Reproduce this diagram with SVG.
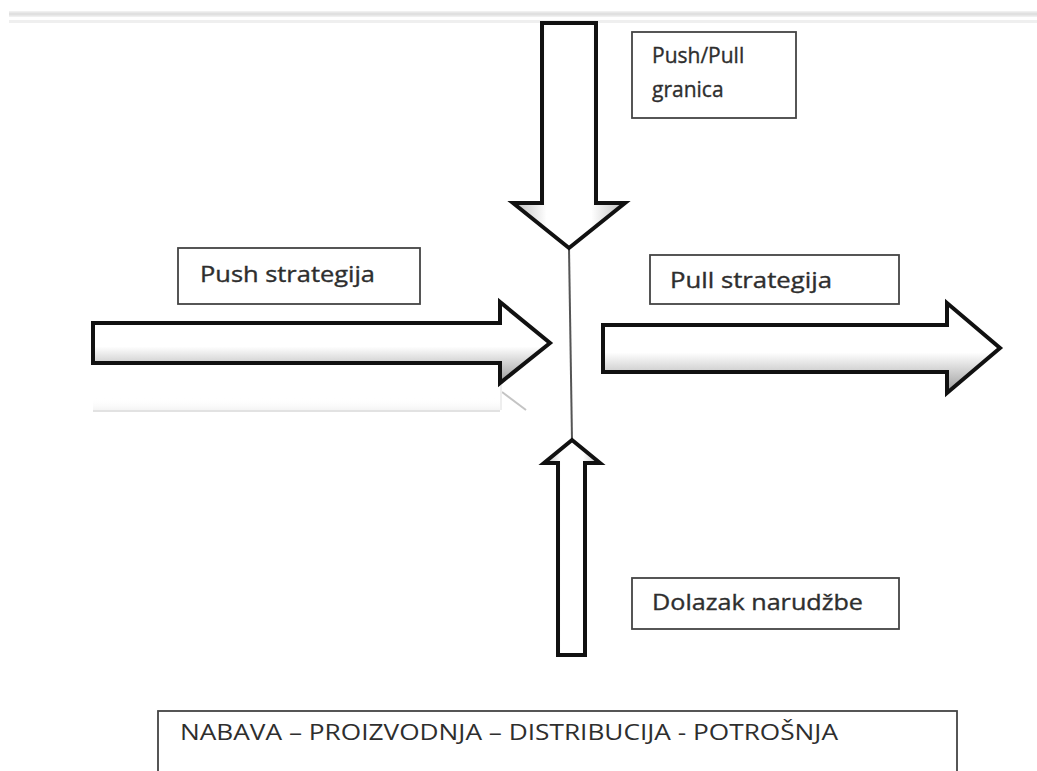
<svg xmlns="http://www.w3.org/2000/svg" width="1037" height="771" viewBox="0 0 1037 771">
<defs>
<style>
.box{fill:#fff;stroke:#444;stroke-width:1.8}
.lbl{font-family:"Open Sans","Liberation Sans",sans-serif;font-size:21px;fill:#2e2e2e;stroke:#2e2e2e;stroke-width:0.35}
.arrow{stroke:#111;stroke-width:4;stroke-linejoin:miter}
</style>
<linearGradient id="gH" x1="0" y1="0" x2="0" y2="1">
<stop offset="0" stop-color="#ffffff"/>
<stop offset="0.55" stop-color="#ffffff"/>
<stop offset="1" stop-color="#9a9a9a"/>
</linearGradient>
<linearGradient id="gV" x1="0" y1="0" x2="1" y2="0">
<stop offset="0" stop-color="#bbbbbb"/>
<stop offset="0.3" stop-color="#ffffff"/>
<stop offset="0.7" stop-color="#ffffff"/>
<stop offset="1" stop-color="#bbbbbb"/>
</linearGradient>
<linearGradient id="gBand" x1="0" y1="0" x2="0" y2="1">
<stop offset="0" stop-color="#f4f4f4"/>
<stop offset="0.5" stop-color="#dcdcdc"/>
<stop offset="1" stop-color="#f4f4f4"/>
</linearGradient>
<linearGradient id="gRefl" x1="0" y1="0" x2="0" y2="1">
<stop offset="0" stop-color="#ffffff" stop-opacity="0"/>
<stop offset="1" stop-color="#f2f2f2"/>
</linearGradient>
</defs>
<rect width="1037" height="771" fill="#fff"/>
<g id="topband">
<rect x="9" y="11" width="1028" height="6" fill="url(#gBand)"/>
<rect x="9" y="20" width="1028" height="3" fill="#efefef"/>
</g>
<g id="connectors">
<line x1="569" y1="248" x2="572" y2="440" stroke="#555" stroke-width="2"/>
</g>
<g id="reflection">
<rect x="93" y="398" width="407" height="13" fill="url(#gRefl)"/>
<line x1="93" y1="411" x2="500" y2="411" stroke="#e2e2e2" stroke-width="2"/>
<line x1="502" y1="392" x2="526" y2="410" stroke="#c4c4c4" stroke-width="2"/>
<line x1="501" y1="385" x2="501" y2="410" stroke="#eeeeee" stroke-width="2"/>
</g>
<g id="arrow-down">
<polygon class="arrow" fill="url(#gV)" points="542,23 596,23 596,203 625,203 569,248 513,203 542,203"/>
</g>
<g id="arrow-push">
<polygon class="arrow" fill="url(#gH)" points="93,323 500,323 500,302 550,343 500,383 500,363 93,363"/>
</g>
<g id="arrow-pull">
<polygon class="arrow" fill="url(#gH)" points="603,325 947,325 947,303 1000,348 947,393 947,372 603,372"/>
</g>
<g id="arrow-up">
<polygon class="arrow" fill="url(#gV)" points="572,440 600,463 585,463 585,655 558,655 558,463 544,463"/>
</g>
<g id="node-pushpull">
<rect class="box" x="632" y="32" width="164" height="86"/>
<text class="lbl" x="652" y="63">Push/Pull</text>
<text class="lbl" x="652" y="97">granica</text>
</g>
<g id="node-push">
<rect class="box" x="178" y="248" width="242" height="56"/>
<text class="lbl" x="200" y="282" textLength="175" lengthAdjust="spacingAndGlyphs">Push strategija</text>
</g>
<g id="node-pull">
<rect class="box" x="650" y="255" width="249" height="49"/>
<text class="lbl" x="670" y="288" textLength="162" lengthAdjust="spacingAndGlyphs">Pull strategija</text>
</g>
<g id="node-order">
<rect class="box" x="632" y="578" width="267" height="51"/>
<text class="lbl" x="652" y="610" textLength="211" lengthAdjust="spacingAndGlyphs">Dolazak narudžbe</text>
</g>
<g id="node-chain">
<rect class="box" x="158" y="711" width="799" height="80"/>
<text class="lbl" x="180" y="740" textLength="658" lengthAdjust="spacingAndGlyphs" style="stroke-width:0">NABAVA – PROIZVODNJA – DISTRIBUCIJA  - POTROŠNJA</text>
</g>
</svg>
